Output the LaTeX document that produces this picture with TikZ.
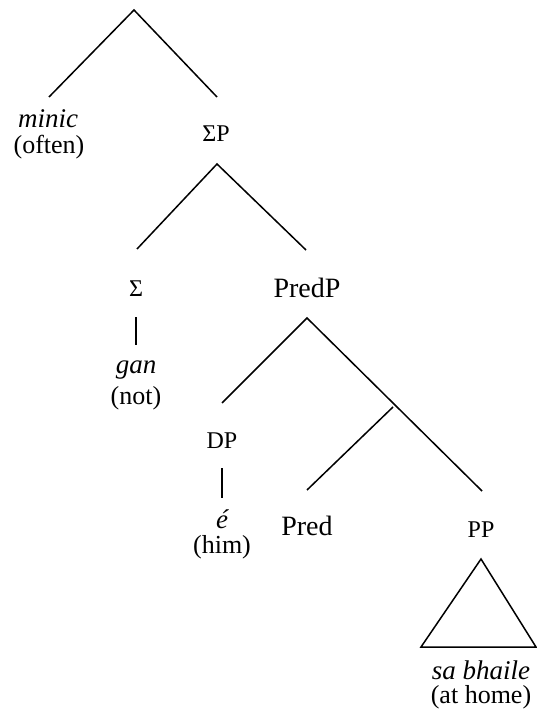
\documentclass[tikz,border=0pt]{standalone}
\usepackage{fontspec}
\setmainfont{Liberation Serif}
\begin{document}
\begin{tikzpicture}[x=1pt, y=-1pt,
        word/.style={anchor=base, inner sep=0pt, font=\fontsize{27}{29}\selectfont\itshape},
        gloss/.style={anchor=base, inner sep=0pt, font=\fontsize{26}{28}\selectfont},
        cat/.style={anchor=base, inner sep=0pt, font=\fontsize{28}{30}\selectfont},
        smallcat/.style={anchor=base, inner sep=0pt, font=\fontsize{24}{26}\selectfont},
        branch/.style={line width=1.5pt}
    ]
        \useasboundingbox (0,0) rectangle (537,711);

        % Joints
        \coordinate (top) at (134, 10);
        \coordinate (minicEnd) at (49, 97);
        \coordinate (spEnd) at (217, 97);
        \coordinate (spTop) at (217, 164);
        \coordinate (sigEnd) at (137, 249);
        \coordinate (predpEnd) at (306, 250);
        \coordinate (sigLow) at (136, 317);
        \coordinate (ganTop) at (136, 345);
        \coordinate (predpTop) at (307, 318);
        \coordinate (dpEnd) at (222, 403);
        \coordinate (mid) at (393, 407);
        \coordinate (predEnd) at (307, 490);
        \coordinate (ppEnd) at (482, 491);
        \coordinate (dpLow) at (222, 468);
        \coordinate (eTop) at (222, 498);
        \coordinate (ppTop) at (481, 559);
        \coordinate (ppLeft) at (421, 647);
        \coordinate (ppRight) at (536, 647);

        % Labels
        \node[word] (minic) at (48, 128) {minic};
        \node[gloss] (often) at (49, 154) {(often)};
        \node[smallcat] (sigmaP) at (216, 142) {ΣP};
        \node[smallcat] (sigma) at (136, 296) {Σ};
        \node[word] (gan) at (136, 373) {gan};
        \node[gloss] (not) at (136, 404) {(not)};
        \node[cat] (predP) at (307, 297) {PredP};
        \node[smallcat] (dp) at (222, 448) {DP};
        \node[word] (e) at (222, 528) {é};
        \node[gloss] (him) at (222, 553) {(him)};
        \node[cat] (pred) at (307, 535) {Pred};
        \node[smallcat] (pp) at (481, 537) {PP};
        \node[word] (sabhaile) at (481, 679) {sa bhaile};
        \node[gloss] (athome) at (481, 703) {(at home)};

        % Branches
        \draw[branch] (minicEnd) -- (top) -- (spEnd);
        \draw[branch] (sigEnd) -- (spTop) -- (predpEnd);
        \draw[branch] (sigLow) -- (ganTop);
        \draw[branch] (dpEnd) -- (predpTop) -- (ppEnd);
        \draw[branch] (mid) -- (predEnd);
        \draw[branch] (dpLow) -- (eTop);
        \draw[branch] (ppTop) -- (ppLeft) -- (ppRight) -- cycle;
    \end{tikzpicture}
\end{document}
